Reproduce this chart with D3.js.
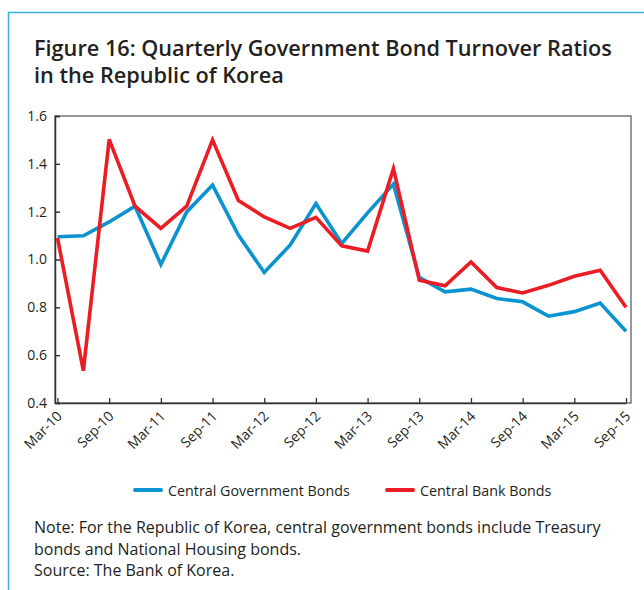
<!DOCTYPE html>
<html>
<head>
<meta charset="utf-8">
<script src="https://cdn.jsdelivr.net/npm/d3@7"></script>
<style>
  body { margin: 0; background: #fff; }
  text { font-family: "Open Sans", Lato, sans-serif; fill: #231f20; }
</style>
</head>
<body>
<script>
// quarters, Mar-10 .. Sep-15
var quarters = ["Mar-10","Jun-10","Sep-10","Dec-10","Mar-11","Jun-11","Sep-11","Dec-11",
  "Mar-12","Jun-12","Sep-12","Dec-12","Mar-13","Jun-13","Sep-13","Dec-13",
  "Mar-14","Jun-14","Sep-14","Dec-14","Mar-15","Jun-15","Sep-15"];
var govBonds = [1.095,1.099,1.157,1.223,0.979,1.199,1.311,1.102,0.946,1.06,1.234,1.067,
  1.195,1.315,0.925,0.865,0.876,0.837,0.823,0.763,0.782,0.818,0.70];
var bankBonds = [1.09,0.535,1.502,1.223,1.13,1.223,1.50,1.247,1.178,1.13,1.176,1.057,
  1.035,1.38,0.913,0.89,0.99,0.883,0.86,0.892,0.93,0.955,0.80];
var yTicks = [0.4,0.6,0.8,1.0,1.2,1.4,1.6];
var xTickLabels = ["Mar-10","Sep-10","Mar-11","Sep-11","Mar-12","Sep-12","Mar-13","Sep-13",
  "Mar-14","Sep-14","Mar-15","Sep-15"];
var seriesNames = ["Central Government Bonds","Central Bank Bonds"];
var colors = ["#0a93cf","#ec1c24"];

var svgWidth = 644, svgHeight = 590;
var frame = {left: 55, right: 631, top: 116, bottom: 403};

var svg = d3.select("body").append("svg")
  .attr("width", svgWidth)
  .attr("height", svgHeight);

// blue border on top and left
svg.append("path")
  .attr("d", "M8.5,590 V12.5 H644")
  .attr("fill", "none")
  .attr("stroke", "#3eaee1")
  .attr("stroke-width", 1.5);

// title
var title = svg.append("text")
  .attr("x", 34)
  .attr("y", 56)
  .attr("font-size", 21.7)
  .attr("font-weight", 600);
title.append("tspan").attr("x", 34).text("Figure 16: Quarterly Government Bond Turnover Ratios");
title.append("tspan").attr("x", 34).attr("dy", 27).text("in the Republic of Korea");

var x = d3.scalePoint().domain(quarters).range([57.5, 626]);
var y = d3.scaleLinear().domain([0.4, 1.6]).range([frame.bottom, frame.top]);

// frame
svg.append("rect")
  .attr("x", frame.left)
  .attr("y", frame.top)
  .attr("width", frame.right - frame.left)
  .attr("height", frame.bottom - frame.top)
  .attr("fill", "none")
  .attr("stroke", "#555")
  .attr("stroke-width", 1.2);

// y axis, ticks point inward
var yAxis = svg.append("g")
  .attr("transform", `translate(${frame.left},0)`)
  .call(d3.axisRight(y).tickValues(yTicks).tickSize(5).tickFormat(d3.format(".1f")));
yAxis.select(".domain").attr("stroke", "#333").attr("stroke-width", 1.5);
yAxis.selectAll(".tick line").attr("stroke", "#333").attr("stroke-width", 1.5);
yAxis.selectAll(".tick text")
  .attr("x", -8)
  .attr("text-anchor", "end")
  .attr("font-size", 14)
  .attr("font-family", "Lato, sans-serif")
  .attr("fill", "#231f20");

// x axis, ticks point inward
var xAxis = svg.append("g")
  .attr("transform", `translate(0,${frame.bottom})`)
  .call(d3.axisTop(x).tickValues(xTickLabels).tickSize(5).tickSizeOuter(0));
xAxis.select(".domain").attr("stroke", "#333").attr("stroke-width", 1.5);
xAxis.selectAll(".tick line").attr("stroke", "#333").attr("stroke-width", 1.3);
xAxis.selectAll(".tick text")
  .attr("y", 0)
  .attr("dy", 0)
  .attr("text-anchor", "end")
  .attr("font-size", 14)
  .attr("font-family", "Lato, sans-serif")
  .attr("fill", "#231f20")
  .attr("transform", "translate(5,14) rotate(-45)");

// lines
var line = d3.line()
  .x(function(d, i) { return x(quarters[i]); })
  .y(function(d) { return y(d); });

[govBonds, bankBonds].forEach(function(s, i) {
  svg.append("path")
    .datum(s)
    .attr("d", line)
    .attr("fill", "none")
    .attr("stroke", colors[i])
    .attr("stroke-width", 3.6)
    .attr("stroke-linejoin", "miter");
});

// legend
var legendX = [135, 387];
seriesNames.forEach(function(name, i) {
  var g = svg.append("g").attr("transform", `translate(${legendX[i]},490)`);
  g.append("line")
    .attr("x1", 0).attr("x2", 26)
    .attr("stroke", colors[i])
    .attr("stroke-width", 4)
    .attr("stroke-linecap", "round");
  g.append("text")
    .attr("x", 33)
    .attr("y", 5.5)
    .attr("font-size", 14.3)
    .text(name);
});

// note and source
var notes = ["Note: For the Republic of Korea, central government bonds include Treasury",
  "bonds and National Housing bonds.",
  "Source: The Bank of Korea."];
svg.selectAll(".note")
  .data(notes)
  .enter()
  .append("text")
  .attr("class", "note")
  .attr("x", 34)
  .attr("y", function(d, i) { return 533 + i * 21.5; })
  .attr("font-size", 16)
  .text(function(d) { return d; });
</script>
</body>
</html>
